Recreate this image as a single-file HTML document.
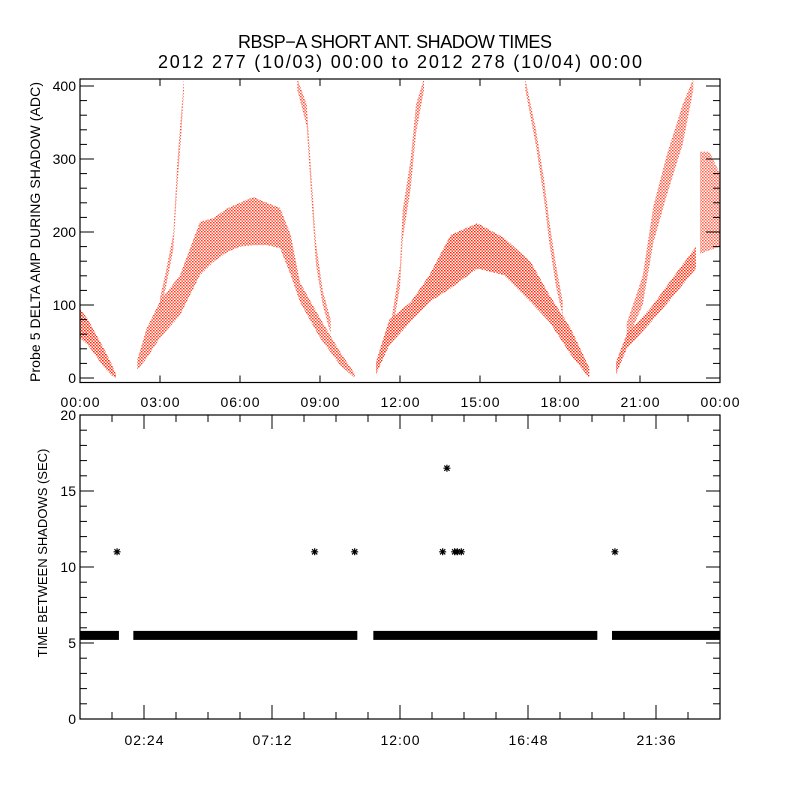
<!DOCTYPE html>
<html><head><meta charset="utf-8"><style>
html,body{margin:0;padding:0;background:#fff}
svg{display:block}
text{font-family:"Liberation Sans",sans-serif;fill:#000}
</style></head><body>
<svg id="chart" width="800" height="800" viewBox="0 0 800 800">
<defs><pattern id="dots" width="3" height="3" patternUnits="userSpaceOnUse"><rect width="1.6" height="1.4" fill="#ff2000"/><rect x="1.5" y="1.5" width="1.5" height="1.3" fill="#ff2000"/></pattern></defs>
<text x="395" y="48" font-size="18" text-anchor="middle" textLength="314">RBSP−A SHORT ANT. SHADOW TIMES</text>
<text x="400" y="68" font-size="18" text-anchor="middle" textLength="484">2012 277 (10/03) 00:00 to 2012 278 (10/04) 00:00</text>
<g id="topPanel"></g>
<g id="botPanel"></g>
</svg>
<script>
// ---- top panel data (hours, ADC) ----
const bandNames = ['pass1-decay','hump1','rise1','fall1','hump2','rise2','fall2','hump3-low','hump3-high','end-cluster'];
const bandT = [
 [0,0.3,0.6,0.9,1.2,1.35],
 [2.15,2.5,3.0,3.75,4.5,5.0,5.5,6.0,6.5,7.0,7.5,7.9,8.25,9.0,9.75,10.3],
 [3.0,3.2,3.5,3.65,3.8,3.9],
 [8.15,8.5,8.7,8.85,9.1,9.4],
 [11.1,11.6,12.4,13.1,13.9,14.9,15.9,16.9,17.6,18.4,19.1],
 [11.7,12.0,12.1,12.4,12.6,12.9],
 [16.7,17.1,17.4,17.6,17.85,18.1],
 [20.1,20.5,21.4,22.2,23.1],
 [20.5,21.1,21.5,22.0,22.6,23.0],
 [23.25,23.6,24]
];
const bandLo = [
 [55,45,30,15,3,0],
 [11,27,55,86,141,159,172,180,182,182,178,141,104,55,18,0],
 [92,120,176,262,335,395],
 [395,345,235,155,100,60],
 [5,45,77,104,123,150,141,104,77,32,0],
 [60,125,190,260,335,395],
 [395,318,245,185,125,85],
 [5,40,76,110,150],
 [50,100,185,250,320,395],
 [170,175,180]
];
const bandHi = [
 [95,80,60,40,18,5],
 [25,68,105,141,214,219,232,240,248,240,233,196,131,82,36,6],
 [110,142,198,295,365,410],
 [410,375,265,185,120,80],
 [22,80,104,141,196,212,192,159,114,68,14],
 [85,155,230,300,375,410],
 [410,340,272,215,155,105],
 [22,60,96,136,180],
 [75,140,235,305,375,410],
 [310,310,280]
];
const bandDensity = [1,0.9,0.8,0.8,1,0.8,0.8,1,0.8,0.75];
// ---- bottom panel data ----
const segStart = [0, 2.0, 11.0, 19.95];
const segEnd = [1.46, 10.4, 19.4, 24];
const segValue = [5.5, 5.5, 5.5, 5.5];
const outT = [1.39, 8.8, 10.3, 13.6, 13.76, 14.05, 14.15, 14.3, 20.06];
const outV = [11, 11, 11, 11, 16.5, 11, 11, 11, 11];
const topYTicks = [0,100,200,300,400];
const topXLabels = ['00:00','03:00','06:00','09:00','12:00','15:00','18:00','21:00','00:00'];
const botYTicks = [0,5,10,15,20];
const botXLabels = ['02:24','07:12','12:00','16:48','21:36'];

const NS='http://www.w3.org/2000/svg';
function mk(parent,tag,attrs,txt){const e=document.createElementNS(NS,tag);for(const k in attrs)e.setAttribute(k,attrs[k]);if(txt!==undefined)e.textContent=txt;parent.appendChild(e);return e;}
const L=80,R=720;
const xS=h=>L+h*(R-L)/24;
const T0=79,T1=382.5;
const yT=v=>378-v*0.73;
const B0=415,B1=719;
const yB=v=>B1-v*(B1-B0)/20;

const topG=document.getElementById('topPanel');
const botG=document.getElementById('botPanel');
const cp=mk(topG,'clipPath',{id:'clipTop'});mk(cp,'rect',{x:L,y:T0,width:R-L,height:T1-T0});
const marks=mk(topG,'g',{'clip-path':'url(#clipTop)'});


bandT.forEach((ts,i)=>{
  let d='';
  ts.forEach((t,j)=>{d+=(j?'L':'M')+xS(t).toFixed(1)+','+yT(bandHi[i][j]).toFixed(1);});
  for(let j=ts.length-1;j>=0;j--)d+='L'+xS(ts[j]).toFixed(1)+','+yT(bandLo[i][j]).toFixed(1);
  d+='Z';
  const p=mk(marks,'path',{d:d,fill:'url(#dots)',opacity:bandDensity[i]});
  
  
});
const tf=mk(topG,'rect',{x:L,y:T0,width:R-L,height:T1-T0,fill:'none',stroke:'#000','stroke-width':1.2});


for(let v=0;v<=400;v+=20){const y=yT(v);const len=v%100===0?14:7;
  mk(topG,'line',{x1:L,x2:L+len,y1:y,y2:y,stroke:'#000'});mk(topG,'line',{x1:R,x2:R-len,y1:y,y2:y,stroke:'#000'});}
topYTicks.forEach(v=>{const t=mk(topG,'text',{x:L-4,y:yT(v)+5,'font-size':14,'text-anchor':'end'},String(v));
  
  });
topXLabels.forEach((s,i)=>{const x=xS(i*3);
  mk(topG,'line',{x1:x,x2:x,y1:T1,y2:T1-7,stroke:'#000'});mk(topG,'line',{x1:x,x2:x,y1:T0,y2:T0+7,stroke:'#000'});
  const t=mk(topG,'text',{x:x,y:407,'font-size':14,'text-anchor':'middle',textLength:39},s);
  
  });
const yl=mk(topG,'text',{x:0,y:0,'font-size':14,'text-anchor':'middle',transform:'translate(40,232) rotate(-90)',textLength:300},'Probe 5 DELTA AMP DURING SHADOW (ADC)');



const cpb=mk(botG,'clipPath',{id:'clipBot'});mk(cpb,'rect',{x:L,y:B0,width:R-L,height:B1-B0});
const bf=mk(botG,'rect',{x:L,y:B0,width:R-L,height:B1-B0,fill:'none',stroke:'#000','stroke-width':1.2});


for(let v=0;v<=20;v++){const y=yB(v);const len=v%5===0?14:7;
  mk(botG,'line',{x1:L,x2:L+len,y1:y,y2:y,stroke:'#000'});mk(botG,'line',{x1:R,x2:R-len,y1:y,y2:y,stroke:'#000'});}
botYTicks.forEach(v=>{const t=mk(botG,'text',{x:L-4,y:yB(v)+5,'font-size':14,'text-anchor':'end'},String(v));
  
  });
for(let k=0;k<=20;k++){const x=xS(k*1.2);const len=k%4===2?14:7;
  mk(botG,'line',{x1:x,x2:x,y1:B1,y2:B1-len,stroke:'#000'});mk(botG,'line',{x1:x,x2:x,y1:B0,y2:B0+len,stroke:'#000'});}
botXLabels.forEach((s,i)=>{const x=xS(2.4+i*4.8);
  const t=mk(botG,'text',{x:x,y:745,'font-size':14,'text-anchor':'middle',textLength:39},s);
  
  });
const yl2=mk(botG,'text',{x:0,y:0,'font-size':13,'text-anchor':'middle',transform:'translate(47,553) rotate(-90)'},'TIME BETWEEN SHADOWS (SEC)');


function star(g,x,y){const r=3.5;
  return mk(g,'path',{d:`M${x-r},${y}H${x+r}M${x},${y-r}V${y+r}M${x-r*0.75},${y-r*0.75}L${x+r*0.75},${y+r*0.75}M${x-r*0.75},${y+r*0.75}L${x+r*0.75},${y-r*0.75}`,stroke:'#000','stroke-width':1.2,fill:'none'});}
const sg=mk(botG,'g',{'clip-path':'url(#clipBot)'});


segStart.forEach((s,i)=>{
  const x0=xS(s),x1=xS(segEnd[i]),y=yB(segValue[i]);
  const r=mk(sg,'rect',{x:x0,y:y-4.5,width:x1-x0,height:9,fill:'#000'});
  
  
});
outT.forEach((t,i)=>{const s=star(sg,xS(t),yB(outV[i]));
  
  });
</script>
</body></html>
